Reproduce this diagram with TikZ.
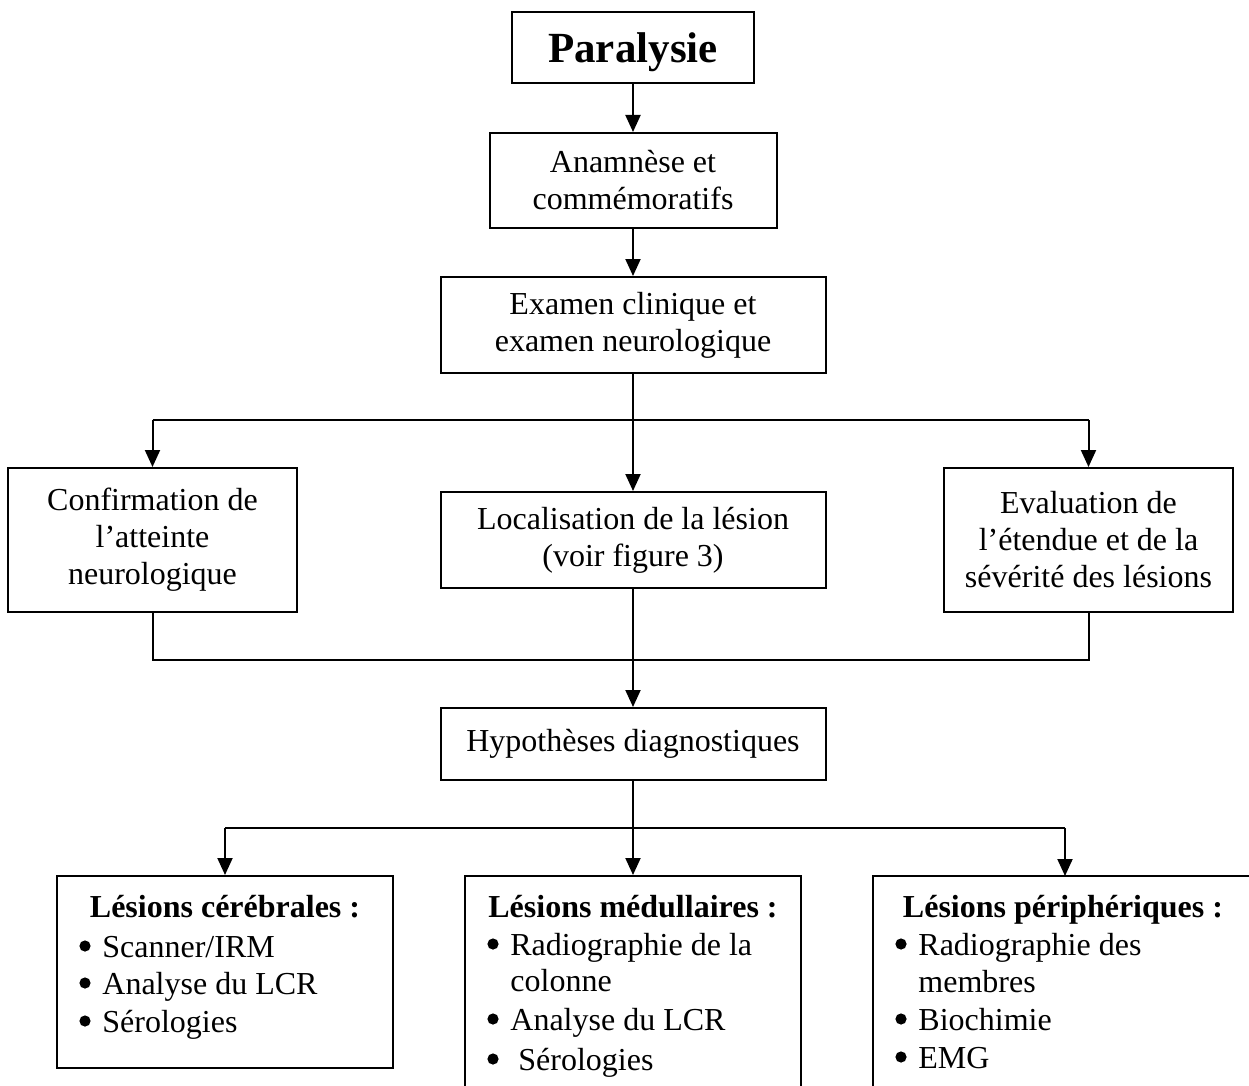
\documentclass[tikz,border=0pt]{standalone}
\usepackage{fontspec}
\setmainfont{Liberation Serif}
\usetikzlibrary{arrows.meta}
\begin{document}
\begin{tikzpicture}[x=0.5pt,y=-0.5pt,
  box/.style={draw,line width=1pt,inner sep=0pt,align=center,
    font=\fontsize{16}{18.5}\selectfont},
  conn/.style={line width=1pt},
  arr/.style={conn,-{Triangle[width=7.5pt,length=8.5pt]}},
  txt/.style={inner sep=0pt,font=\fontsize{16}{18.5}\selectfont},
  ttl/.style={txt,anchor=base,font=\fontsize{16}{18.5}\selectfont\bfseries},
  item/.style={txt,anchor=base west},
  dot/.style={fill,radius=2.8pt},
]
\useasboundingbox (0,0) rectangle (1249,1086);

% main column
\node[box,minimum width=121pt,minimum height=35.5pt,text height=15.5pt,text depth=0pt,
  font=\fontsize{21.5}{25}\selectfont\bfseries] (para) at (633,47.5) {Paralysie};
\node[box,minimum width=143.5pt,minimum height=47.5pt] (anam) at (633,180.5)
  {Anamnèse et\\commémoratifs};
\node[box,minimum width=192.5pt,minimum height=48pt] (exam) at (633,325)
  {Examen clinique et\\examen neurologique};

% three assessment boxes
\node[box,minimum width=144.5pt,minimum height=72pt] (conf) at (152.5,540)
  {Confirmation de\\l’atteinte\\neurologique};
\node[box,minimum width=192.5pt,minimum height=48pt] (loc) at (633,540)
  {Localisation de la lésion\\(voir figure 3)};
\node[box,minimum width=144.5pt,minimum height=72pt] (eval) at (1088.5,540)
  {Evaluation de\\l’étendue et de la\\sévérité des lésions};

\node[box,minimum width=192.5pt,minimum height=36pt] (hyp) at (633,744)
  {Hypothèses diagnostiques};

% examination boxes
\node[box,minimum width=168pt,minimum height=96pt] (cer) at (225,972) {};
\node[box,minimum width=168pt,minimum height=117pt] (med) at (633,993) {};
\node[box,minimum width=208.5pt,minimum height=117pt] (per) at (1081.5,993) {};

\node[ttl] (certitle) at (225,917) {Lésions cérébrales :};
\node[item] (cer1) at (102,957) {Scanner/IRM};
\node[item] (cer2) at (102,994) {Analyse du LCR};
\node[item] (cer3) at (102,1032) {Sérologies};

\node[ttl] (medtitle) at (633,917) {Lésions médullaires :};
\node[item] (med1) at (510,955) {Radiographie de la};
\node[item] (med1b) at (510,991) {colonne};
\node[item] (med2) at (510,1030) {Analyse du LCR};
\node[item] (med3) at (518,1070) {Sérologies};

\node[ttl] (pertitle) at (1063,917) {Lésions périphériques :};
\node[item] (per1) at (918,955) {Radiographie des};
\node[item] (per1b) at (918,992) {membres};
\node[item] (per2) at (918,1030) {Biochimie};
\node[item] (per3) at (918,1068) {EMG};

% list bullets
\foreach \n in {cer1,cer2,cer3,med1,med2,per1,per2,per3}
  \fill[dot] ([xshift=-8.5pt,yshift=5.5pt]\n.base west) circle;
\fill[dot] ([xshift=-12.5pt,yshift=5.5pt]med3.base west) circle;

% connectors
\coordinate (split1) at (633,420);
\coordinate (join1) at (633,660);
\coordinate (split2) at (633,828);
\coordinate (perin) at (1065,876);

\draw[arr] (para) -- (anam);
\draw[arr] (anam) -- (exam);
\draw[arr] (exam.south) -- (loc.north);
\draw[conn] (split1 -| conf.north) -- (split1 -| eval.north);
\draw[arr] (split1 -| conf.north) -- (conf.north);
\draw[arr] (split1 -| eval.north) -- (eval.north);

\draw[conn] (conf.south) |- (join1) -| (eval.south);
\draw[arr] (loc.south) -- (hyp.north);

\draw[arr] (hyp.south) -- (med.north);
\draw[conn] (split2 -| cer.north) -- (split2 -| perin);
\draw[arr] (split2 -| cer.north) -- (cer.north);
\draw[arr] (split2 -| perin) -- (perin);
\end{tikzpicture}
\end{document}
